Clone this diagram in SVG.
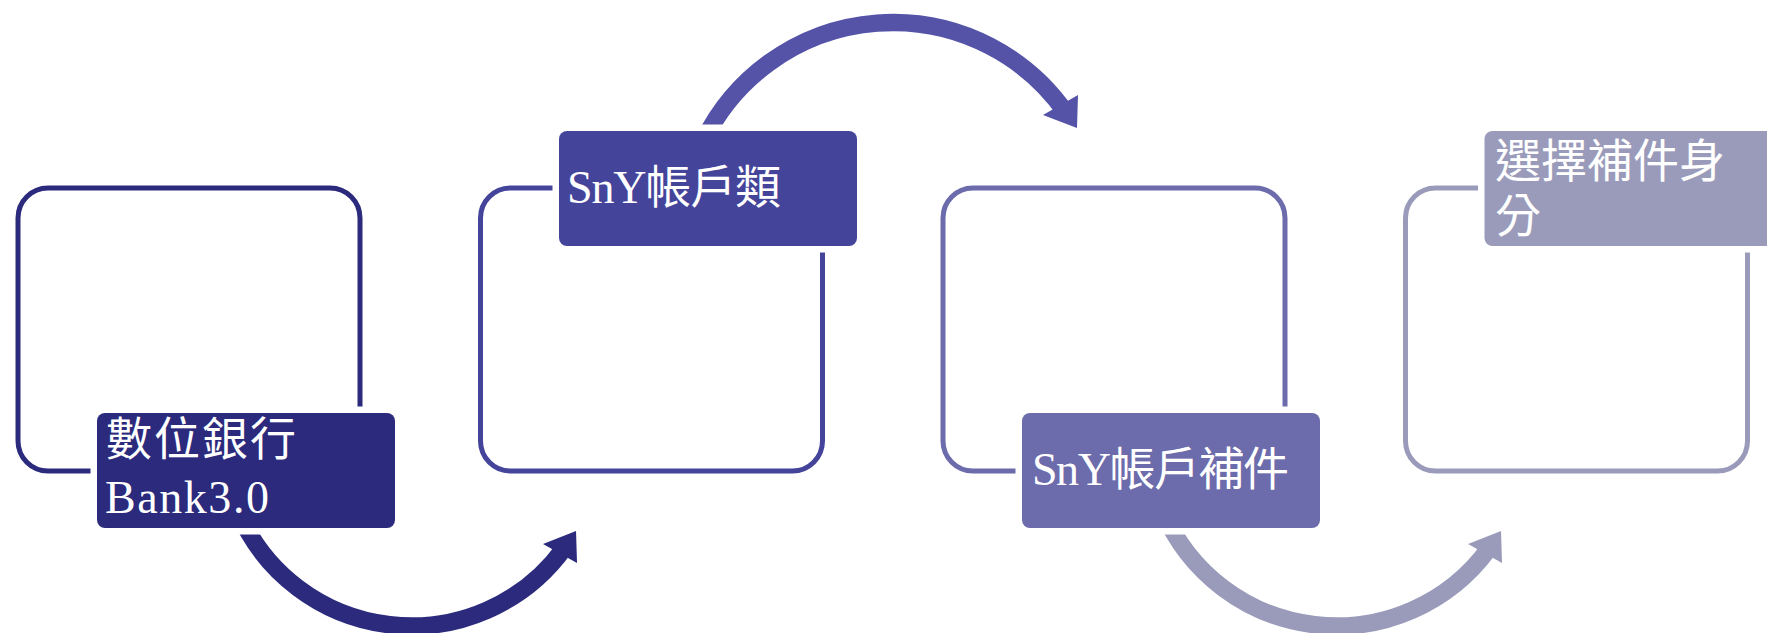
<svg xmlns="http://www.w3.org/2000/svg" width="1767" height="633" viewBox="0 0 1767 633">
<style>
.frame{fill:none;stroke-width:5}
.halo{fill:#ffffff}
.lbl{font-family:"Liberation Serif","Noto Sans CJK TC",serif;font-size:46px;fill:#ffffff}
.c1{stroke:#2b2a7c}.c2{stroke:#44449b}.c3{stroke:#6c6bab}.c4{stroke:#9a9bba}
.arc{fill:none;stroke-width:17.5;stroke-linecap:butt}
</style>
<rect width="1767" height="633" fill="#ffffff"/>
<g id="frames">
<rect id="frame1" class="frame c1" x="18" y="188" width="342" height="283" rx="30"/>
<rect id="frame2" class="frame c2" x="480.5" y="188" width="342" height="283" rx="30"/>
<rect id="frame3" class="frame c3" x="943" y="188" width="342" height="283" rx="30"/>
<rect id="frame4" class="frame c4" x="1405.5" y="188" width="342" height="283" rx="30"/>
</g>
<g id="connectors">
<path class="arc" stroke="#2b2a7c" d="M237.5,510 A188.5,188.5 0 0 0 564,548.3"/>
<polygon fill="#2b2a7c" points="543,544 577,563 576,531"/>
<path class="arc" stroke="#5453a8" stroke-width="18" d="M704,140 A210.8,210.8 0 0 1 1065.7,112.4"/>
<polygon fill="#5453a8" points="1043,115 1078,95 1077,128"/>
<path class="arc" stroke="#9a9bba" d="M1162.5,510 A188.5,188.5 0 0 0 1489,548.3"/>
<polygon fill="#9a9bba" points="1468,544 1502,563 1501,531"/>
</g>
<g id="node1">
<rect class="halo" x="90.5" y="406.5" width="311" height="128" rx="14"/>
<rect x="97" y="413" width="298" height="115" rx="8" fill="#2b2a7c"/>
<text class="lbl" x="106" y="455" textLength="190">數位銀行</text>
<text class="lbl" x="105" y="513" font-size="50" textLength="164">Bank3.0</text>
</g>
<g id="node2">
<rect class="halo" x="552.5" y="124.5" width="311" height="128" rx="14"/>
<rect x="559" y="131" width="298" height="115" rx="8" fill="#44449b"/>
<text class="lbl" x="567" y="203" textLength="214">SnY帳戶類</text>
</g>
<g id="node3">
<rect class="halo" x="1015.5" y="406.5" width="311" height="128" rx="14"/>
<rect x="1022" y="413" width="298" height="115" rx="8" fill="#6c6bab"/>
<text class="lbl" x="1032" y="485" textLength="257">SnY帳戶補件</text>
</g>
<g id="node4">
<rect class="halo" x="1478" y="124.5" width="311" height="128" rx="14"/>
<rect x="1484.5" y="131" width="298" height="115" rx="8" fill="#9a9bba"/>
<text class="lbl" x="1495" y="177" textLength="230">選擇補件身</text>
<text class="lbl" x="1495" y="232">分</text>
</g>
</svg>
